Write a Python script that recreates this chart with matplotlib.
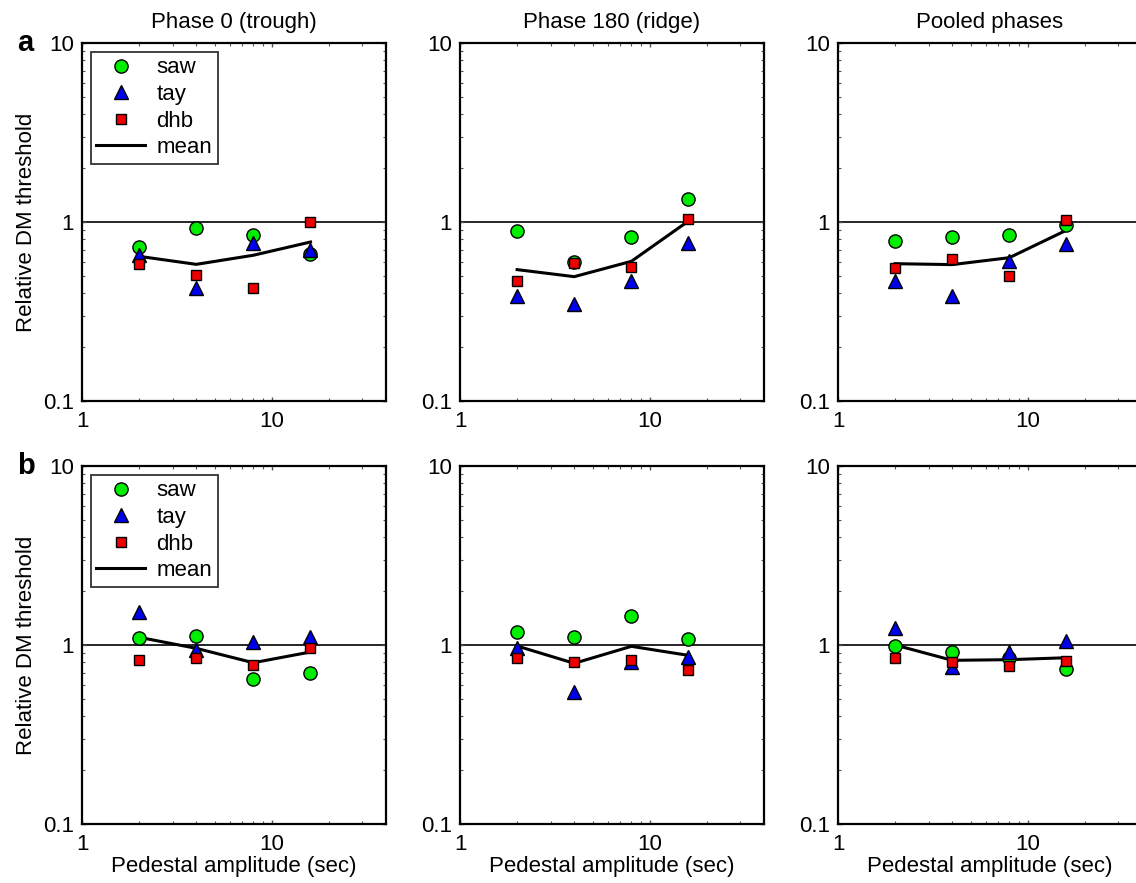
import matplotlib
matplotlib.use("Agg")
import matplotlib.pyplot as plt
from matplotlib.ticker import FixedLocator, NullFormatter, FixedFormatter
import numpy as np

plt.rcParams['font.family'] = ['Liberation Sans', 'DejaVu Sans']

# pedestal amplitudes (sec)
ped = [2, 4, 8, 16]
titles = ["Phase 0 (trough)", "Phase 180 (ridge)", "Pooled phases"]

# row a: relative DM thresholds
a_saw = [[0.725, 0.92, 0.85, 0.665], [0.89, 0.60, 0.825, 1.34], [0.78, 0.82, 0.85, 0.965]]
a_tay = [[0.65, 0.43, 0.765, 0.695], [0.385, 0.35, 0.47, 0.76], [0.47, 0.385, 0.605, 0.755]]
a_dhb = [[0.585, 0.505, 0.43, 1.0], [0.47, 0.59, 0.56, 1.035], [0.55, 0.62, 0.50, 1.02]]
a_mean = [[0.643, 0.58, 0.652, 0.773], [0.542, 0.495, 0.603, 1.013], [0.585, 0.578, 0.632, 0.90]]

# row b
b_saw = [[1.09, 1.12, 0.642, 0.697], [1.18, 1.11, 1.46, 1.08], [0.99, 0.918, 0.842, 0.731]]
b_tay = [[1.52, 0.935, 1.045, 1.11], [0.965, 0.548, 0.803, 0.86], [1.24, 0.753, 0.918, 1.05]]
b_dhb = [[0.82, 0.842, 0.773, 0.962], [0.842, 0.807, 0.824, 0.725], [0.842, 0.803, 0.76, 0.814]]
b_mean = [[1.104, 0.958, 0.796, 0.914], [0.987, 0.79, 0.983, 0.875], [1.0, 0.821, 0.828, 0.849]]

fig = plt.figure(figsize=(11.36, 8.83), dpi=100)

col_x = [82 / 1136, 460 / 1136, 838 / 1136]
w = 304 / 1136
row_y = [1 - 401 / 883, 1 - 824 / 883]
h = 358 / 883

rows = [(a_saw, a_tay, a_dhb, a_mean), (b_saw, b_tay, b_dhb, b_mean)]
fs = 16

for r, (saw, tay, dhb, mean) in enumerate(rows):
    for c in range(3):
        ax = fig.add_axes([col_x[c], row_y[r], w, h])
        ax.set_xscale('log')
        ax.set_yscale('log')
        ax.set_xlim(1, 40)
        ax.set_ylim(0.1, 10)
        ax.axhline(1, color='black', lw=1.2, zorder=1)
        ax.plot(ped, mean[c], color='black', lw=2.2, zorder=2, label='mean')
        ax.plot(ped, saw[c], 'o', ms=9.5, mfc='#00ee00', mec='black', mew=1.0, zorder=3, label='saw')
        ax.plot(ped, tay[c], '^', ms=10.5, mfc='#0000ee', mec='black', mew=1.0, zorder=3, label='tay')
        ax.plot(ped, dhb[c], 's', ms=7.5, mfc='#ee0000', mec='black', mew=1.0, zorder=4, label='dhb')

        ax.xaxis.set_major_locator(FixedLocator([1, 10]))
        ax.xaxis.set_major_formatter(FixedFormatter(['1', '10']))
        ax.yaxis.set_major_locator(FixedLocator([0.1, 1, 10]))
        ax.yaxis.set_major_formatter(FixedFormatter(['0.1', '1', '10']))
        ax.xaxis.set_minor_locator(FixedLocator([2, 3, 4, 5, 6, 7, 8, 9, 20, 30]))
        ax.yaxis.set_minor_locator(FixedLocator(list(np.arange(0.2, 1.0, 0.1)) + list(range(2, 10))))
        ax.xaxis.set_minor_formatter(NullFormatter())
        ax.yaxis.set_minor_formatter(NullFormatter())
        ax.tick_params(which='both', direction='in', top=True, right=True,
                       labelsize=fs, color='#555555')
        ax.tick_params(which='major', length=3, width=1)
        ax.tick_params(which='minor', length=2, width=0.8)
        ax.tick_params(axis='x', pad=7)
        ax.tick_params(axis='y', pad=6)
        for sp in ax.spines.values():
            sp.set_linewidth(1.6)

        if r == 0:
            ax.set_title(titles[c], fontsize=fs, pad=11)
        else:
            ax.set_xlabel('Pedestal amplitude (sec)', fontsize=fs, labelpad=1)
        if c == 0:
            ax.set_ylabel('Relative DM threshold', fontsize=fs, labelpad=4)
            handles, labels = ax.get_legend_handles_labels()
            order = [1, 2, 3, 0]
            leg = ax.legend([handles[i] for i in order], [labels[i] for i in order],
                            loc='upper left', fontsize=fs, frameon=True, fancybox=False,
                            borderaxespad=0.4, handlelength=2.2, labelspacing=0.25,
                            borderpad=0.25, handletextpad=0.5)
            leg.get_frame().set_edgecolor('black')
            leg.get_frame().set_linewidth(1.3)
            ax.text(-0.215, 1.0, 'a' if r == 0 else 'b', transform=ax.transAxes,
                    fontsize=21, fontweight='bold', va='center', ha='left')

fig.savefig('out.png', dpi=100)
